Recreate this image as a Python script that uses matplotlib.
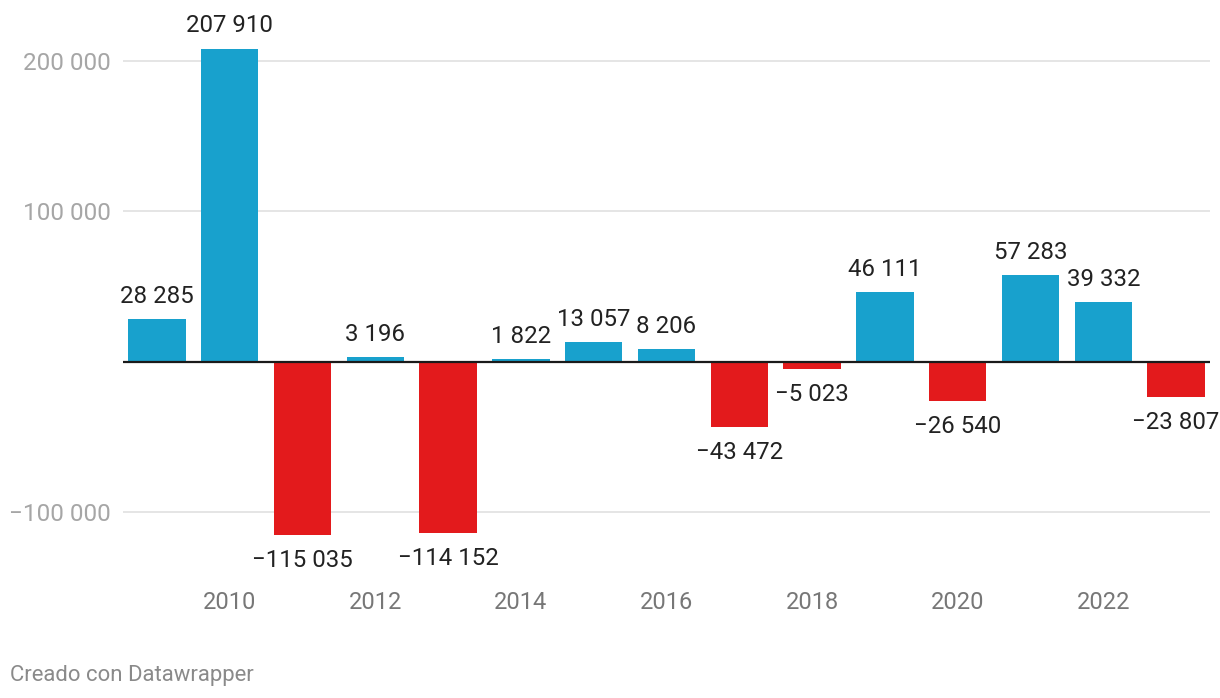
import numpy as np
import matplotlib
matplotlib.use("Agg")
import matplotlib.pyplot as plt

plt.rcParams['font.family'] = ['Roboto', 'DejaVu Sans']

# donnees du graphique
annees = [2009, 2010, 2011, 2012, 2013, 2014, 2015, 2016,
          2017, 2018, 2019, 2020, 2021, 2022, 2023]
valeurs = [28285, 207910, -115035, 3196, -114152, 1822, 13057, 8206,
           -43472, -5023, 46111, -26540, 57283, 39332, -23807]
ticks_annees = [2010, 2012, 2014, 2016, 2018, 2020, 2022]
ticks_y = [-100000, 100000, 200000]

bleu = '#18a1cd'
rouge = '#e31a1c'


def fmt(v):
    s = "{:,}".format(abs(v)).replace(",", " ")
    return ("\u2212" + s) if v < 0 else s


fig = plt.figure(figsize=(12.2, 6.98), dpi=100)
ax = fig.add_axes([123 / 1220, 1 - 580 / 698, (1210 - 123) / 1220, (580 - 20) / 698])

couleurs = [bleu if v >= 0 else rouge for v in valeurs]
ax.bar(annees, valeurs, width=0.79, color=couleurs, zorder=3)

# echelle: 0 a y=361 px, 1.505 px pour 1000
ax.set_ylim(-(580 - 361.5) / 1.505 * 1000, (361.5 - 20) / 1.505 * 1000)
ax.set_xlim(2008.534, 2023.466)

ax.set_yticks(ticks_y)
ax.set_yticklabels([fmt(t) for t in ticks_y])
ax.set_xticks(ticks_annees)
ax.set_xticklabels([str(a) for a in ticks_annees])

ax.grid(axis='y', color='#e0e0e0', linewidth=1.2, zorder=0)
ax.axhline(0, color='#1a1a1a', linewidth=1.6, zorder=4)

for s in ax.spines.values():
    s.set_visible(False)
ax.tick_params(axis='y', length=0, pad=9, labelsize=17.5, labelcolor='#a6a6a6')
ax.tick_params(axis='x', length=0, pad=8, labelsize=17, labelcolor='#777777')

# etiquettes des valeurs
for a, v in zip(annees, valeurs):
    if v >= 0:
        ax.annotate(fmt(v), (a, v), xytext=(0, 8), textcoords='offset points',
                    ha='center', va='bottom', fontsize=17.3, color='#222222')
    else:
        ax.annotate(fmt(v), (a, v), xytext=(0, -10), textcoords='offset points',
                    ha='center', va='top', fontsize=17.3, color='#222222')

fig.text(10 / 1220, 1 - 675 / 698, 'Creado con Datawrapper', fontsize=15.9,
         color='#8a8a8a', ha='left', va='center')

fig.savefig('out.png', dpi=100)
